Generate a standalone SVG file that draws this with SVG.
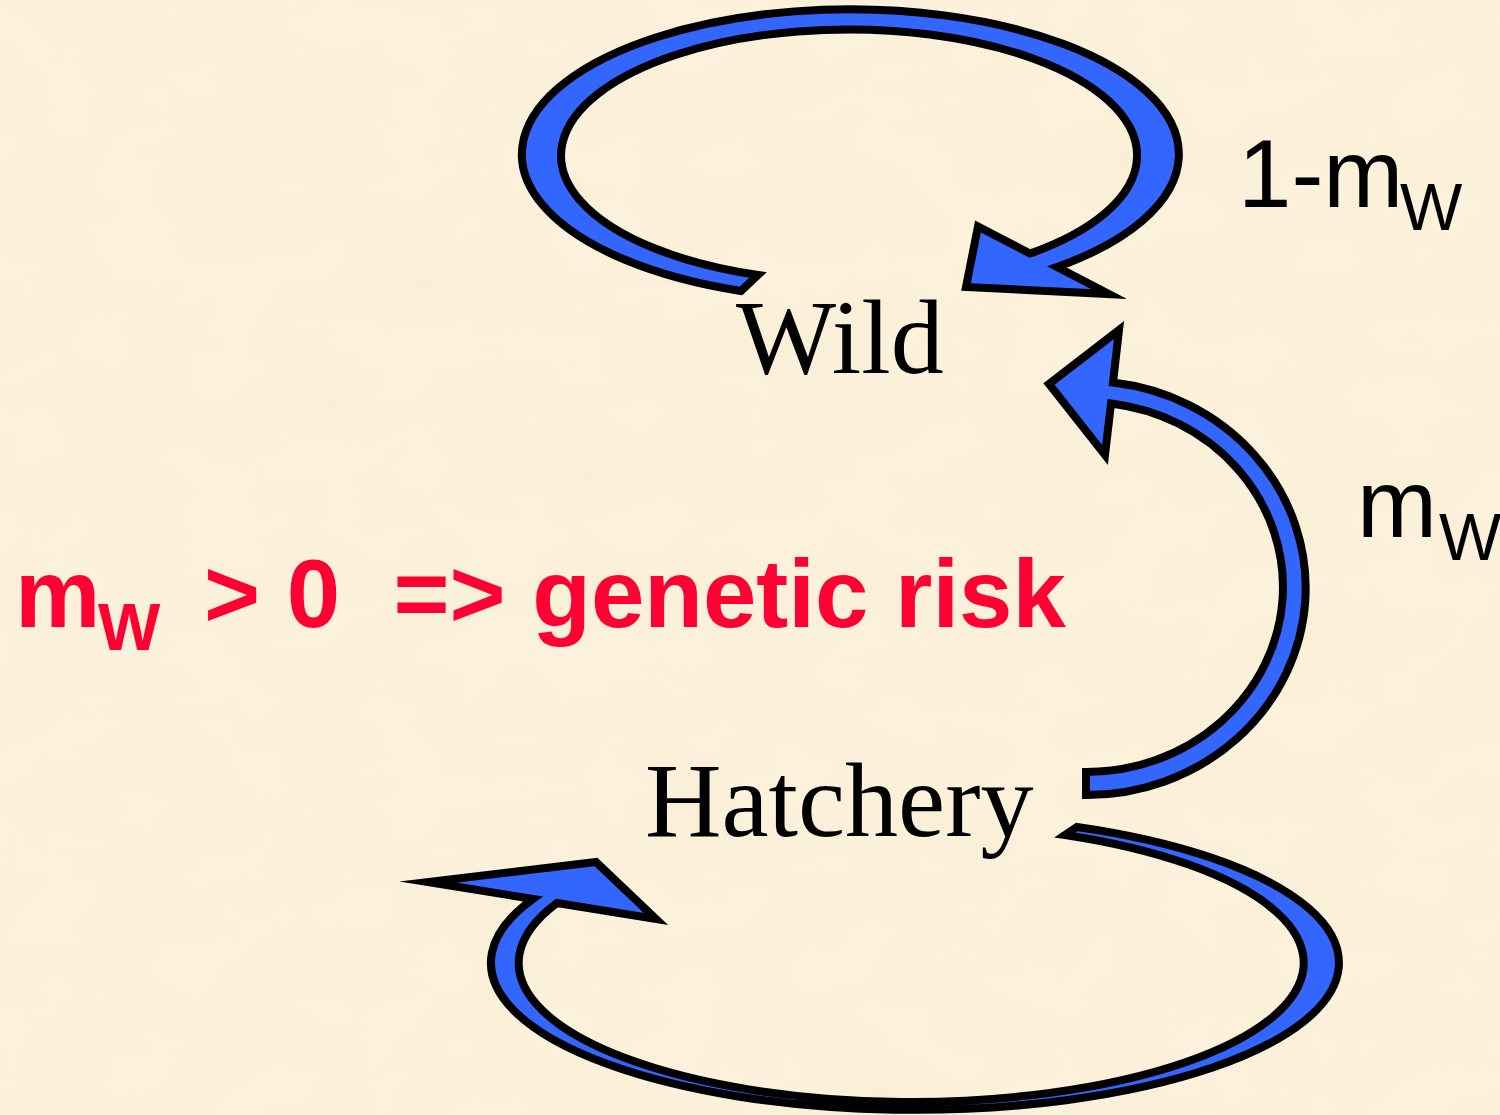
<svg xmlns="http://www.w3.org/2000/svg" width="1500" height="1115" viewBox="0 0 1500 1115">
  <style>
    .arrow { fill: #3366FF; stroke: #000000; stroke-width: 8; stroke-linejoin: miter; stroke-miterlimit: 12; }
    .node { font-family: "Liberation Serif", "Times New Roman", serif; font-size: 106px; fill: #000000; }
    .rate { font-family: "Liberation Sans", Arial, sans-serif; fill: #000000; }
    .note { font-family: "Liberation Sans", Arial, sans-serif; font-weight: bold; fill: #FF0033; }
  </style>
  <defs>
    <!-- mottled parchment texture -->
    <filter id="paper" x="0" y="0" width="100%" height="100%" filterUnits="userSpaceOnUse">
      <feTurbulence type="fractalNoise" baseFrequency="0.011 0.016" numOctaves="4" seed="7"/>
      <feColorMatrix type="matrix" values="0 0 0 0 0.90  0 0 0 0 0.80  0 0 0 0 0.58  0 0 0 0.55 -0.18"/>
    </filter>
  </defs>

  <!-- parchment background -->
  <rect x="0" y="0" width="1500" height="1115" fill="#FCF2DC"/>
  <rect x="0" y="0" width="1500" height="1115" filter="url(#paper)"/>

  <!-- population nodes -->
  <g id="node-wild">
    <text class="node" x="736" y="373">Wild</text>
  </g>
  <g id="node-hatchery">
    <text class="node" x="645" y="836">Hatchery</text>
  </g>

  <!-- migration connectors: curved block arrows -->
  <g id="connectors">
    <!-- Wild -> Wild (1 - m_W) -->
    <path id="loop-wild" class="arrow"
      d="M741,291 A328.5,145 0 1 1 1057,267 L1109,294 L966,287 L978,226.5 L1030,253.5 A288,126 0 1 0 758,275 Z"/>
    <!-- Hatchery -> Wild (m_W) -->
    <path id="hatchery-to-wild" class="arrow"
      d="M1086,795 A219,207 0 0 0 1113,382.5 L1119,330 L1049,384 L1105,455 L1111,403.5 A197,185 0 0 1 1086,772 Z"/>
    <!-- Hatchery -> Hatchery -->
    <path id="loop-hatchery" class="arrow"
      d="M1077,827 A424,147 0 1 1 533,899 L428,882 L596,862 L656,919 L557,903 A392.5,139 0 1 0 1065,835 Z"/>
  </g>

  <!-- rate labels -->
  <g id="labels">
    <text class="rate" x="1238" y="207" font-size="96">1-m</text>
    <text class="rate" x="1400" y="230" font-size="66">W</text>
    <text class="rate" x="1357" y="537" font-size="96">m</text>
    <text class="rate" x="1439" y="560" font-size="66">W</text>
  </g>

  <!-- conclusion -->
  <g id="conclusion">
    <text class="note" x="15" y="627" font-size="96">m</text>
    <text class="note" x="98" y="650" font-size="66">W</text>
    <text class="note" x="204" y="627" font-size="96" xml:space="preserve">&gt; 0  =&gt; genetic risk</text>
  </g>
</svg>
